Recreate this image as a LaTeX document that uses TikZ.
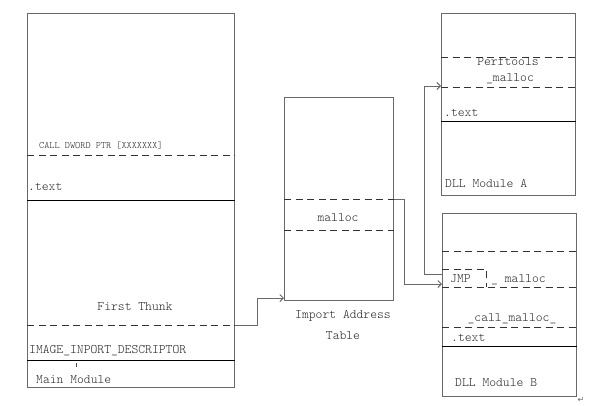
\documentclass[tikz,border=0pt]{standalone}
\usepackage{fontspec}
\newfontfamily\monofnt{Latin Modern Mono Light}
\newfontfamily\symfnt{DejaVu Sans}
\usetikzlibrary{arrows.meta}
\definecolor{outl}{RGB}{105,105,105}
\tikzset{
  box/.style={draw=outl, line width=0.9pt, inner sep=0pt, anchor=north west},
  sep/.style={draw=black, line width=0.6pt},
  dsep/.style={draw=black!80, line width=0.8pt, dash pattern=on 7pt off 4.5pt},
  conn/.style={draw=outl, line width=1pt, -{Straight Barb[length=3.5pt,width=7pt]}},
  txt/.style={font=\monofnt\fontsize{13}{14}\selectfont, inner sep=0pt, text=black!85},
  smalltxt/.style={font=\monofnt\fontsize{9.8}{11}\selectfont, inner sep=0pt, text=black!85}
}
\begin{document}
\begin{tikzpicture}[x=1pt,y=-1pt]
\useasboundingbox (0,0) rectangle (589,405);
% boxes
\node[box, minimum width=207pt, minimum height=374pt] (main) at (27,13) {};
\node[box, minimum width=109pt, minimum height=203pt] (iat) at (284,97) {};
\node[box, minimum width=134pt, minimum height=182pt] (dlla) at (441,13) {};
\node[box, minimum width=134pt, minimum height=183pt] (dllb) at (442,213) {};
% main module separators
\draw[dsep] (main.west |- 0,155) -- (main.east |- 0,155);
\draw[sep] (main.west |- 0,200) -- (main.east |- 0,200);
\draw[dsep] (main.west |- 0,325) -- (main.east |- 0,325);
\draw[sep] (main.west |- 0,360) -- (main.east |- 0,360);
\draw[black!70, line width=0.6pt] (76,363) -- (76,367);
\node[smalltxt, anchor=west] (calltxt) at (39,145.5) {CALL DWORD PTR [XXXXXXX]};
\node[txt, anchor=west] (maintext) at (28,187) {.text};
\node[txt] (thunk) at (135,307) {First Thunk};
\node[txt, anchor=west] (desc) at (29,351) {IMAGE\_INPORT\_DESCRIPTOR};
\node[txt, anchor=west] (mainname) at (36,380) {Main Module};
% IAT
\draw[dsep] (iat.west |- 0,199) -- (iat.east |- 0,199);
\draw[dsep] (iat.west |- 0,230) -- (iat.east |- 0,230);
\node[txt] (iatmalloc) at (338,218) {malloc};
\node[txt] (iatname1) at (343,316) {Import Address};
\node[txt] (iatname2) at (343,336) {Table};
% DLL A
\draw[dsep] (dlla.west |- 0,57) -- (dlla.east |- 0,57);
\draw[dsep] (dlla.west |- 0,87) -- (dlla.east |- 0,87);
\draw[sep] (dlla.west |- 0,121) -- (dlla.east |- 0,121);
\node[txt] (perf) at (508,62) {Perftools};
\node[txt] (perfm) at (510,79) {\_malloc};
\node[txt, anchor=west] (atext) at (444,113) {.text};
\node[txt, anchor=west] (aname) at (445,183) {DLL Module A};
% DLL B
\draw[dsep] (dllb.west |- 0,251) -- (dllb.east |- 0,251);
\draw[dsep] (dllb.west |- 0,287) -- (dllb.east |- 0,287);
\draw[dsep] (dllb.west |- 0,327) -- (dllb.east |- 0,327);
\draw[sep] (dllb.west |- 0,346) -- (dllb.east |- 0,346);
\draw[dsep] (dllb.west |- 0,269) -- (486,269) -- (486,287);
\node[txt, anchor=west] (jmp) at (450,279) {JMP};
\node[txt, anchor=west] (bmalloc) at (491,280) {\_ malloc};
\node[txt] (callm) at (512,319) {\_call\_malloc\_};
\node[txt, anchor=west] (btext) at (451,338) {.text};
\node[txt, anchor=west] (bname) at (455,383) {DLL Module B};
\node[font=\symfnt\fontsize{8}{9}\selectfont, text=black!60, inner sep=0pt] (ret) at (581,400) {↵};
% connectors
\coordinate (ftp) at (main.east |- 0,325);
\coordinate (iatin) at (iat.west |- 0,298);
\draw[conn] (ftp) -- (257,325) |- (iatin);
\coordinate (iatm) at (iat.east |- 0,199);
\coordinate (dllbin) at (dllb.west |- 0,284);
\draw[conn] (iatm) -- (404,199) |- (dllbin);
\coordinate (jmpout) at (dllb.west |- 0,274);
\coordinate (dllain) at (dlla.west |- 0,86);
\draw[conn] (jmpout) -- (424,274) |- (dllain);
\end{tikzpicture}
\end{document}
